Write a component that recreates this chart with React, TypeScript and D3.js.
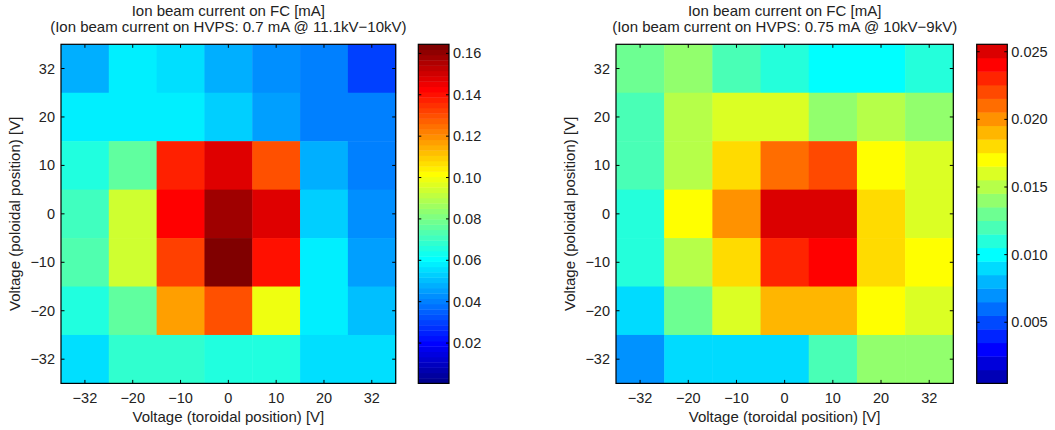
import React from "react";
import * as d3 from "d3";

const xLabels = ["\u221232", "\u221220", "\u221210", "0", "10", "20", "32"];
const yLabels = ["32", "20", "10", "0", "\u221210", "\u221220", "\u221232"];

// rows top (32) to bottom (-32), columns -32 .. 32
const leftValues: number[][] = [
  [0.049, 0.058, 0.0555, 0.0478, 0.0427, 0.0395, 0.031],
  [0.058, 0.058, 0.058, 0.0529, 0.0452, 0.0395, 0.0395],
  [0.0657, 0.076, 0.1375, 0.1477, 0.1298, 0.0478, 0.0401],
  [0.0708, 0.0939, 0.1426, 0.158, 0.1477, 0.0529, 0.0427],
  [0.0734, 0.0939, 0.1323, 0.1631, 0.14, 0.058, 0.0465],
  [0.0657, 0.0765, 0.117, 0.1298, 0.099, 0.058, 0.0504],
  [0.0555, 0.0683, 0.0683, 0.0657, 0.0657, 0.0555, 0.0555],
];
const rightValues: number[][] = [
  [0.013, 0.014, 0.012, 0.011, 0.01, 0.01, 0.011],
  [0.012, 0.015, 0.016, 0.016, 0.014, 0.015, 0.014],
  [0.012, 0.015, 0.018, 0.021, 0.022, 0.017, 0.016],
  [0.011, 0.017, 0.02, 0.025, 0.025, 0.018, 0.016],
  [0.011, 0.015, 0.018, 0.023, 0.024, 0.018, 0.017],
  [0.009, 0.013, 0.016, 0.019, 0.019, 0.017, 0.016],
  [0.007, 0.009, 0.009, 0.009, 0.012, 0.014, 0.014],
];
const leftClim = [0.0005, 0.1644];
const rightClim = [0.00048, 0.02555];
const leftCbTicks = [0.02, 0.04, 0.06, 0.08, 0.1, 0.12, 0.14, 0.16];
const rightCbTicks = [0.005, 0.01, 0.015, 0.02, 0.025];
const leftLevels = 64;
const rightLevels = 25;
const titleLine1 = "Ion beam current on FC [mA]";
const leftTitle2 = "(Ion beam current on HVPS: 0.7 mA @ 11.1kV\u221210kV)";
const rightTitle2 = "(Ion beam current on HVPS: 0.75 mA @ 10kV\u22129kV)";
const xTitle = "Voltage (toroidal position) [V]";
const yTitle = "Voltage (poloidal position) [V]";

function jet(m: number): number[][] {
  const n = Math.ceil(m / 4);
  const u: number[] = [];
  for (let i = 1; i <= n; i++) u.push(i / n);
  for (let i = 1; i < n; i++) u.push(1);
  for (let i = n; i >= 1; i--) u.push(i / n);
  const off = Math.ceil(n / 2) - (m % 4 === 1 ? 1 : 0);
  const g: number[] = [], r: number[] = [], b: number[] = [];
  for (let i = 1; i <= u.length; i++) {
    const gi = off + i;
    if (gi <= m) g.push(gi);
    if (gi + n <= m) r.push(gi + n);
    if (gi - n >= 1) b.push(gi - n);
  }
  const J = Array.from({ length: m }, () => [0, 0, 0]);
  r.forEach((idx, k) => (J[idx - 1][0] = u[k]));
  g.forEach((idx, k) => (J[idx - 1][1] = u[k]));
  b.forEach((idx, k) => (J[idx - 1][2] = u[u.length - b.length + k]));
  return J;
}

function toRgb(c: number[]) {
  return d3.rgb(c[0] * 255, c[1] * 255, c[2] * 255).formatHex();
}

function colorFor(v: number, clim: number[], cmap: number[][]) {
  const m = cmap.length;
  let idx = Math.floor(((v - clim[0]) / (clim[1] - clim[0])) * m);
  idx = Math.max(0, Math.min(m - 1, idx));
  return toRgb(cmap[idx]);
}

const FONT = "'Liberation Sans', Arial, Helvetica, sans-serif";
const TXT = "#222";

type PanelProps = {
  values: number[][];
  clim: number[];
  levels: number;
  cbTicks: number[];
  cbFormat: (v: number) => string;
  title2: string;
  ax: [number, number, number, number]; // x0,x1,y0,y1
  cb: [number, number]; // x0,x1
};

function Panel({ values, clim, levels, cbTicks, cbFormat, title2, ax, cb }: PanelProps) {
  const [x0, x1, y0, y1] = ax;
  const cmap = jet(levels);
  const xs = d3.scaleBand<string>().domain(xLabels).range([x0, x1]);
  const ys = d3.scaleBand<string>().domain(yLabels).range([y0, y1]);
  const cy = d3.scaleLinear().domain(clim).range([y1, y0]);
  const step = (clim[1] - clim[0]) / levels;
  const tl = 3.5;
  const cx = (x0 + x1) / 2;
  const cyMid = (y0 + y1) / 2;
  return (
    <g>
      <text x={cx} y={16} textAnchor="middle" fontSize={15} fontFamily={FONT} fill={TXT}>
        {titleLine1}
      </text>
      <text x={cx} y={32} textAnchor="middle" fontSize={15} fontFamily={FONT} fill={TXT}>
        {title2}
      </text>
      {values.map((row, ri) =>
        row.map((v, ci) => (
          <rect
            key={`${ri}-${ci}`}
            x={xs(xLabels[ci])!}
            y={ys(yLabels[ri])!}
            width={xs.bandwidth() + 0.5}
            height={ys.bandwidth() + 0.5}
            fill={colorFor(v, clim, cmap)}
          />
        ))
      )}
      <rect x={x0} y={y0} width={x1 - x0} height={y1 - y0} fill="none" stroke="#000" strokeWidth={1.2} />
      {xLabels.map((l) => {
        const x = xs(l)! + xs.bandwidth() / 2;
        return (
          <g key={"xt" + l}>
            <line x1={x} x2={x} y1={y1} y2={y1 - tl} stroke="#000" />
            <line x1={x} x2={x} y1={y0} y2={y0 + tl} stroke="#000" />
            <text x={x} y={403} textAnchor="middle" fontSize={14.5} fontFamily={FONT} fill={TXT}>
              {l}
            </text>
          </g>
        );
      })}
      {yLabels.map((l) => {
        const y = ys(l)! + ys.bandwidth() / 2;
        return (
          <g key={"yt" + l}>
            <line x1={x0} x2={x0 + tl} y1={y} y2={y} stroke="#000" />
            <line x1={x1} x2={x1 - tl} y1={y} y2={y} stroke="#000" />
            <text x={x0 - 6} y={y + 5} textAnchor="end" fontSize={14.5} fontFamily={FONT} fill={TXT}>
              {l}
            </text>
          </g>
        );
      })}
      <text x={cx} y={422} textAnchor="middle" fontSize={15} fontFamily={FONT} fill={TXT}>
        {xTitle}
      </text>
      <text
        transform={`translate(${x0 - 41.5},${cyMid}) rotate(-90)`}
        textAnchor="middle"
        fontSize={15}
        fontFamily={FONT}
        fill={TXT}
      >
        {yTitle}
      </text>
      {cmap.map((c, k) => {
        const ya = cy(clim[0] + (k + 1) * step);
        const yb = cy(clim[0] + k * step);
        return <rect key={"cb" + k} x={cb[0]} y={ya} width={cb[1] - cb[0]} height={yb - ya + 0.4} fill={toRgb(c)} />;
      })}
      <rect x={cb[0]} y={y0} width={cb[1] - cb[0]} height={y1 - y0} fill="none" stroke="#000" strokeWidth={1.2} />
      {cbTicks.map((t) => {
        const y = cy(t);
        return (
          <g key={"cbt" + t}>
            <line x1={cb[0]} x2={cb[0] + 3} y1={y} y2={y} stroke="#000" />
            <line x1={cb[1]} x2={cb[1] - 3} y1={y} y2={y} stroke="#000" />
            <text x={cb[1] + 4} y={y + 5} fontSize={14.5} fontFamily={FONT} fill={TXT}>
              {cbFormat(t)}
            </text>
          </g>
        );
      })}
    </g>
  );
}

export default function App() {
  return (
    <svg
      width={1055}
      height={430}
      style={{ position: "absolute", left: 0, top: 0, background: "#fff" }}
    >
      <rect x={0} y={0} width={1055} height={430} fill="#fff" />
      <Panel
        values={leftValues}
        clim={leftClim}
        levels={leftLevels}
        cbTicks={leftCbTicks}
        cbFormat={d3.format(".2f")}
        title2={leftTitle2}
        ax={[61, 395.7, 44.3, 383.4]}
        cb={[418.3, 449]}
      />
      <Panel
        values={rightValues}
        clim={rightClim}
        levels={rightLevels}
        cbTicks={rightCbTicks}
        cbFormat={d3.format(".3f")}
        title2={rightTitle2}
        ax={[616, 953.3, 44.3, 383.4]}
        cb={[976.7, 1007.3]}
      />
    </svg>
  );
}
